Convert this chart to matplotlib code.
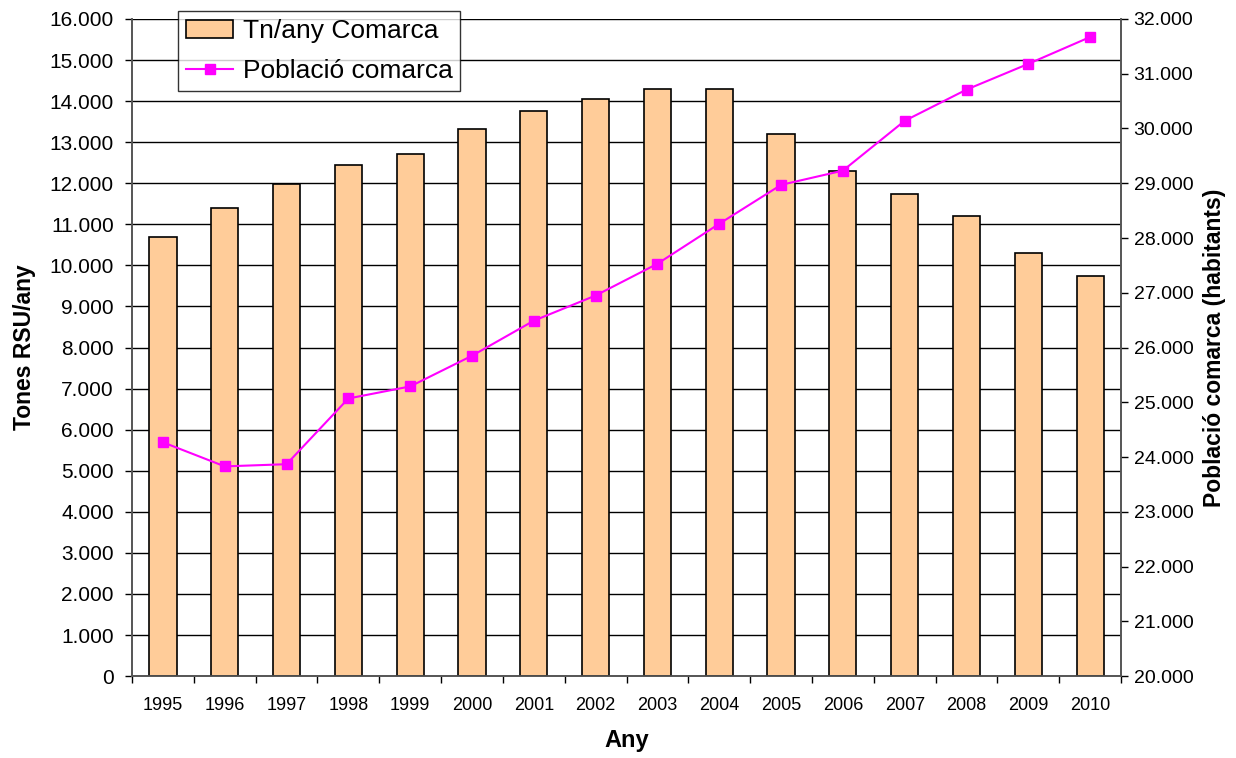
import numpy as np
import matplotlib.pyplot as plt
from matplotlib.ticker import FuncFormatter, MultipleLocator

plt.rcParams['font.family'] = ['Liberation Sans', 'DejaVu Sans']

# data
years = ['1995', '1996', '1997', '1998', '1999', '2000', '2001', '2002',
         '2003', '2004', '2005', '2006', '2007', '2008', '2009', '2010']
tones = [10700, 11400, 11970, 12450, 12700, 13320, 13750, 14060,
         14300, 14300, 13200, 12310, 11730, 11210, 10290, 9730]
poblacio = [24270, 23830, 23870, 25070, 25290, 25850, 26490, 26950,
            27530, 28260, 28970, 29230, 30140, 30710, 31180, 31670]

def miles(v, pos):
    return '{:,.0f}'.format(v).replace(',', '.')

fig = plt.figure(figsize=(12.36, 7.58), dpi=100)
ax = fig.add_axes([0.1068, 0.108, 0.8002, 0.867])
ax2 = ax.twinx()

x = np.arange(len(years))
bars = ax.bar(x, tones, width=0.44, color='#FFCC99', edgecolor='black',
              linewidth=1.2, label='Tn/any Comarca', zorder=3)
line, = ax2.plot(x, poblacio, color='#FF00FF', marker='s', markersize=7.5,
                 linewidth=1.5, label='Població comarca')

ax.set_xlim(-0.5, len(years) - 0.5)
ax.set_ylim(0, 16000)
ax.yaxis.set_major_locator(MultipleLocator(1000))
ax.yaxis.set_major_formatter(FuncFormatter(miles))
ax2.set_ylim(20000, 32000)
ax2.yaxis.set_major_locator(MultipleLocator(1000))
ax2.yaxis.set_major_formatter(FuncFormatter(miles))

ax.grid(axis='y', color='black', linewidth=1, zorder=0)
ax.set_axisbelow(True)

# category ticks between the bars, labels centred
ax.set_xticks(np.arange(-0.5, len(years)), minor=False)
ax.set_xticklabels([])
ax.set_xticks(x, minor=True)
ax.set_xticklabels(years, minor=True)
ax.tick_params(axis='x', which='major', direction='out', length=5, width=1)
ax.tick_params(axis='x', which='minor', length=0, pad=15, labelsize=13)
ax.tick_params(axis='y', direction='out', length=5, width=1, labelsize=15, pad=8)
ax2.tick_params(axis='y', direction='out', length=5, width=1, labelsize=14, pad=4)

for a in (ax, ax2):
    a.spines['top'].set_visible(False)
    for s in ('left', 'right', 'bottom'):
        a.spines[s].set_color('#555555')
        a.spines[s].set_linewidth(1.2)

ax.set_xlabel('Any', fontsize=17, fontweight='bold', labelpad=11)
ax.set_ylabel('Tones RSU/any', fontsize=16.5, fontweight='bold', labelpad=10)
ax2.set_ylabel('Població comarca (habitants)', fontsize=16.5, fontweight='bold', labelpad=7)

leg = ax2.legend([bars, line], ['Tn/any Comarca', 'Població comarca'],
                 loc='upper left', bbox_to_anchor=(0.0465, 1.012), fontsize=19,
                 frameon=True, fancybox=False, edgecolor='black',
                 handlelength=1.8, borderpad=0.3, labelspacing=0.6,
                 handletextpad=0.35, borderaxespad=0)
leg.get_frame().set_linewidth(1)

fig.savefig('out.png', dpi=100)
